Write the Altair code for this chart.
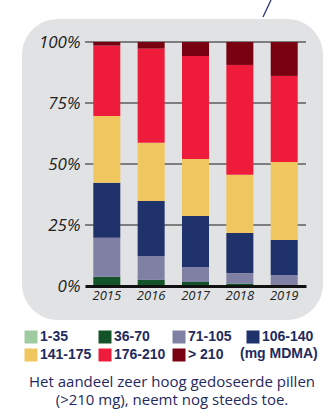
import altair as alt
import pandas as pd

years = ["2015", "2016", "2017", "2018", "2019"]
cats = ["1-35", "36-70", "71-105", "106-140", "141-175", "176-210", "> 210"]
colors = ["#9fcba0", "#13532a", "#8080a4", "#1f326b", "#f0c75e", "#ee1b3b", "#780010"]
values = {
    "1-35":    [0.0, 0.0, 0.0, 0.0, 0.0],
    "36-70":   [3.8, 2.5, 1.6, 1.0, 0.0],
    "71-105":  [16.0, 9.8, 6.2, 4.3, 4.5],
    "106-140": [22.5, 22.5, 20.9, 16.4, 14.4],
    "141-175": [27.4, 23.9, 23.3, 23.9, 31.9],
    "176-210": [28.8, 38.6, 42.3, 45.0, 35.3],
    "> 210":   [1.5, 2.7, 5.7, 9.4, 13.9],
}
grid_values = [25, 50, 75, 100]
caption = ["Het aandeel zeer hoog gedoseerde pillen", "(>210 mg), neemt nog steeds toe."]
unit_label = "(mg MDMA)"

rows = []
for i, c in enumerate(cats):
    for y, v in zip(years, values[c]):
        rows.append({"year": y, "cat": c, "value": v, "idx": i})
df = pd.DataFrame(rows)

W, H = 221, 244
NAVY = "#1f2a5e"
FONT = "Open Sans"
LFONT = "Liberation Sans"

bg = alt.Chart(pd.DataFrame({"a": [0]})).mark_rect(
    color="#e1e2e4", cornerRadius=36
).encode(x=alt.value(-63), x2=alt.value(238), y=alt.value(-23), y2=alt.value(278))

callout = alt.Chart(pd.DataFrame({"a": [0]})).mark_rule(
    color="#2a3570", strokeWidth=1.3
).encode(x=alt.value(178), x2=alt.value(186), y=alt.value(-25), y2=alt.value(-42))

grid = alt.Chart(pd.DataFrame({"v": grid_values})).mark_rule(
    color="#1a1a1a", strokeWidth=1
).encode(
    y=alt.Y("v:Q", scale=alt.Scale(domain=[0, 100])),
    x=alt.value(0), x2=alt.value(W),
)

bars = alt.Chart(df).mark_bar().encode(
    x=alt.X("year:N", sort=years,
            scale=alt.Scale(paddingInner=0.391, paddingOuter=0.187),
            axis=alt.Axis(title=None, labelAngle=0, ticks=False, domain=True,
                          domainWidth=3, domainColor="#111111", zindex=1,
                          labelFont=FONT, labelFontStyle="italic", labelFontSize=13,
                          labelColor="#222222", labelPadding=3)),
    y=alt.Y("value:Q", stack="zero", scale=alt.Scale(domain=[0, 100]),
            axis=alt.Axis(title=None, values=[0, 25, 50, 75, 100], ticks=False,
                          domain=False, grid=False, zindex=1,
                          labelExpr="datum.value + '%'",
                          labelFont=FONT, labelFontStyle="italic", labelFontSize=17,
                          labelColor="#222222", labelPadding=5)),
    color=alt.Color("cat:N", scale=alt.Scale(domain=cats, range=colors),
                    legend=alt.Legend(title=None, orient="none", legendX=-61, legendY=288,
                                      columns=4, direction="horizontal",
                                      symbolType="square", symbolSize=169,
                                      symbolStrokeWidth=0, symbolOpacity=1,
                                      labelFont=LFONT, labelFontSize=14,
                                      labelFontWeight="bold", labelColor=NAVY,
                                      labelOffset=2, gridAlign="all",
                                      columnPadding=6, rowPadding=4)),
    order=alt.Order("idx:Q", sort="ascending"),
)

unit = alt.Chart(pd.DataFrame({"t": [unit_label]})).mark_text(
    align="left", baseline="middle", font=LFONT, fontSize=14, fontWeight="bold", color=NAVY
).encode(text="t:N", x=alt.value(155), y=alt.value(312))

cap = alt.Chart(pd.DataFrame({"a": [0]})).mark_text(
    align="center", baseline="middle", font=FONT, fontSize=15, color=NAVY, lineHeight=18
).encode(text=alt.value(caption), x=alt.value(87), y=alt.value(339.5))

chart = alt.layer(bg, callout, grid, bars, unit, cap).properties(
    width=W, height=H,
    autosize=alt.AutoSizeParams(type="none"),
    padding={"left": 85, "top": 42, "right": 22, "bottom": 130},
    background="white",
).configure_view(stroke=None)

chart.save("out.html", embed_options={"renderer": "svg", "actions": False})
